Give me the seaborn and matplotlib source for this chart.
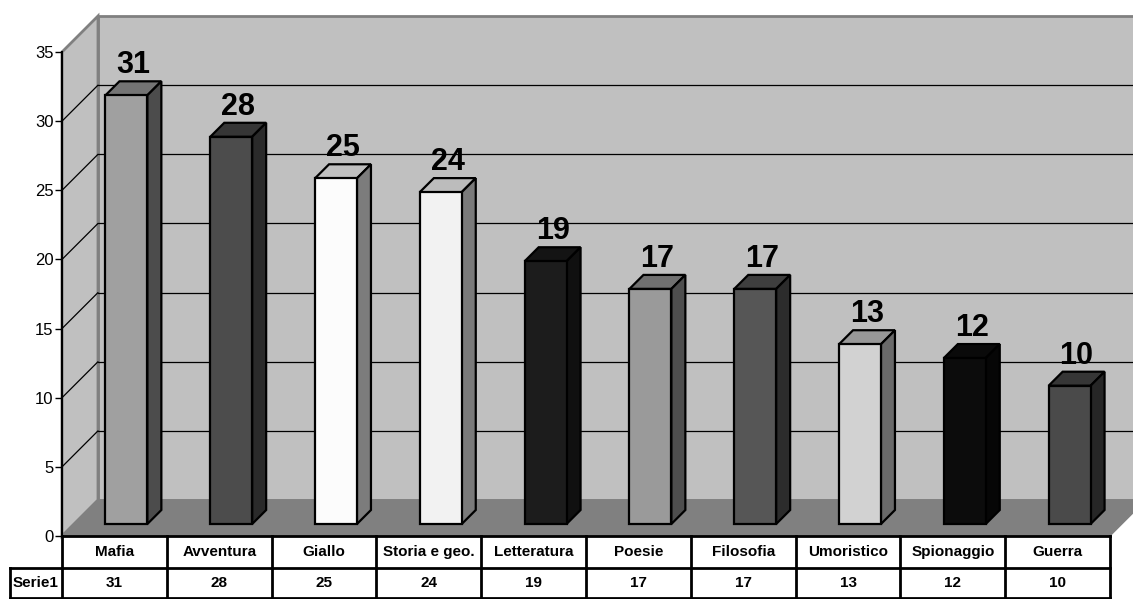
import matplotlib
matplotlib.use("Agg")
import matplotlib.pyplot as plt
import matplotlib.transforms as mtransforms
from matplotlib.patches import Polygon
from matplotlib.lines import Line2D
import seaborn as sns
import pandas as pd

categories = ["Mafia", "Avventura", "Giallo", "Storia e geo.", "Letteratura",
              "Poesie", "Filosofia", "Umoristico", "Spionaggio", "Guerra"]
values = [31, 28, 25, 24, 19, 17, 17, 13, 12, 10]
series_name = "Serie1"
yticks = [0, 5, 10, 15, 20, 25, 30, 35]

front_colors = ["#a0a0a0", "#4c4c4c", "#fcfcfc", "#f2f2f2", "#1c1c1c",
                "#9a9a9a", "#565656", "#d2d2d2", "#0c0c0c", "#4a4a4a"]
top_colors = ["#747474", "#363636", "#c0c0c0", "#bcbcbc", "#141414",
              "#707070", "#3e3e3e", "#989898", "#0a0a0a", "#363636"]
side_colors = ["#4c4c4c", "#2a2a2a", "#7c7c7c", "#7a7a7a", "#101010",
               "#4e4e4e", "#2c2c2c", "#6a6a6a", "#060606", "#262626"]

sns.set_theme(style="white")
FONT = ["Liberation Sans Narrow", "Liberation Sans", "DejaVu Sans"]
plt.rcParams["font.family"] = FONT

DPI = 100
fig = plt.figure(figsize=(11.33, 5.99), dpi=DPI)
fig.patch.set_facecolor("white")
ax = fig.add_axes([62 / 1133, 63 / 599, 1048 / 1133, 484 / 599])
ax.patch.set_visible(False)

df = pd.DataFrame({"cat": categories, "val": values})
sns.barplot(data=df, x="cat", y="val", hue="cat", palette=front_colors,
            legend=False, width=0.4, ax=ax, edgecolor="black",
            linewidth=1.6, saturation=1)
ax.set_xlim(-0.5, 9.5)
ax.set_ylim(0, 35)
ax.set_yticks(yticks)
ax.set_xticks([])
ax.set_xlabel("")
ax.set_ylabel("")
for s in ["top", "right", "bottom"]:
    ax.spines[s].set_visible(False)
ax.spines["left"].set_color("black")
ax.spines["left"].set_linewidth(1.5)
ax.tick_params(axis="y", direction="out", length=5, width=1, color="black",
               left=True, labelsize=12, pad=1, labelcolor="black")

ident = mtransforms.IdentityTransform()
FRONT = 12
DEPTH = 14
BACK = 36


def P(x, y, d=0.0):
    px, py = ax.transData.transform((x, y))
    return (px + d, py + d)


# floor
floor = Polygon([P(-0.5, 0, 0), P(9.5, 0, 0), P(9.5, 0, BACK), P(-0.5, 0, BACK)],
                closed=True, facecolor="#808080", edgecolor="#808080",
                linewidth=0.8, transform=ident, clip_on=False, zorder=0.5)
ax.add_patch(floor)
# back wall
back = Polygon([P(-0.5, 0, BACK), P(9.5, 0, BACK), P(9.5, 35, BACK), P(-0.5, 35, BACK)],
               closed=True, facecolor="#c0c0c0", edgecolor="#808080",
               linewidth=2, transform=ident, clip_on=False, zorder=0.2)
ax.add_patch(back)
# left wall
left = Polygon([P(-0.5, 0, 0), P(-0.5, 35, 0), P(-0.5, 35, BACK), P(-0.5, 0, BACK)],
               closed=True, facecolor="#c0c0c0", edgecolor="#808080",
               linewidth=2, transform=ident, clip_on=False, zorder=0.3)
ax.add_patch(left)
# gridlines
for v in yticks[1:-1]:
    a, b = P(-0.5, v, BACK), P(9.5, v, BACK)
    ax.add_line(Line2D([a[0], b[0]], [a[1], b[1]], color="black", lw=0.9,
                       transform=ident, clip_on=False, zorder=0.4))
    c = P(-0.5, v, 0)
    ax.add_line(Line2D([c[0], a[0]], [c[1], a[1]], color="black", lw=0.9,
                       transform=ident, clip_on=False, zorder=0.4))

# bars: front faces from seaborn, shifted into depth
off_front = mtransforms.ScaledTranslation(FRONT / DPI, FRONT / DPI, fig.dpi_scale_trans)
for i, p in enumerate(ax.patches[3:] if False else [pp for pp in ax.patches if pp not in (floor, back, left)]):
    p.set_transform(ax.transData + off_front)
    p.set_clip_on(False)
    p.set_zorder(3)
    x0 = p.get_x()
    x1 = x0 + p.get_width()
    h = p.get_height()
    top = Polygon([P(x0, h, FRONT), P(x1, h, FRONT), P(x1, h, FRONT + DEPTH), P(x0, h, FRONT + DEPTH)],
                  closed=True, facecolor=top_colors[i], edgecolor="black",
                  linewidth=1.6, joinstyle="miter", transform=ident, clip_on=False, zorder=2.5)
    side = Polygon([P(x1, 0, FRONT), P(x1, h, FRONT), P(x1, h, FRONT + DEPTH), P(x1, 0, FRONT + DEPTH)],
                   closed=True, facecolor=side_colors[i], edgecolor="black",
                   linewidth=1.6, joinstyle="miter", transform=ident, clip_on=False, zorder=2.5)
    ax.add_patch(top)
    ax.add_patch(side)
    cx = (x0 + x1) / 2
    lab = P(cx, h, FRONT + DEPTH / 2)
    ax.text(lab[0], P(cx, h, FRONT + DEPTH)[1] + 1, str(values[i]), transform=ident,
            ha="center", va="bottom", fontsize=22, fontweight="bold",
            color="black", zorder=6, family=FONT)

# data table
y0 = P(0, 0, 0)[1]
row1 = y0 - 32
row2 = y0 - 62
xl = P(-0.5, 0)[0]
xr = P(9.5, 0)[0]
xs = P(-0.5, 0)[0] - 52


def hline(xa, xb, y):
    ax.add_line(Line2D([xa, xb], [y, y], color="black", lw=2, transform=ident,
                       clip_on=False, zorder=7, solid_capstyle="projecting"))


def vline(x, ya, yb):
    ax.add_line(Line2D([x, x], [ya, yb], color="black", lw=2, transform=ident,
                       clip_on=False, zorder=7, solid_capstyle="projecting"))


hline(xl, xr, y0)
hline(xs, xr, row1)
hline(xs, xr, row2)
vline(xs, row1, row2)
for k in range(len(categories) + 1):
    xk = P(-0.5 + k, 0)[0]
    vline(xk, y0, row2)
for i, (c, v) in enumerate(zip(categories, values)):
    xc = P(i, 0)[0]
    ax.text(xc, (y0 + row1) / 2, c, transform=ident, ha="center", va="center",
            fontsize=11, fontweight="bold", color="black", family=FONT)
    ax.text(xc, (row1 + row2) / 2, str(v), transform=ident, ha="center", va="center",
            fontsize=11, fontweight="bold", color="black", family=FONT)
ax.text((xs + xl) / 2, (row1 + row2) / 2, series_name, transform=ident, ha="center",
        va="center", fontsize=11, fontweight="bold", color="black", family=FONT)

fig.savefig("out.png", dpi=DPI)
